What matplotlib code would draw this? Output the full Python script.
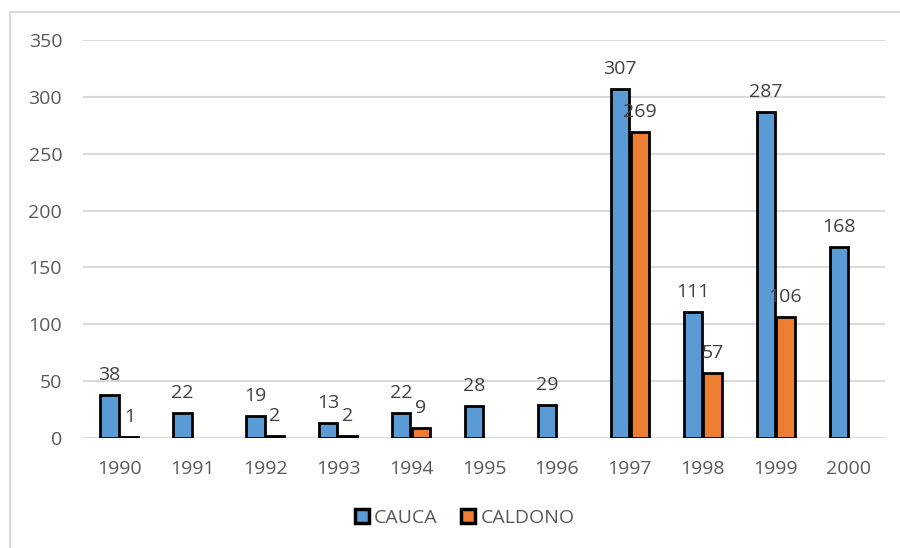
import numpy as np
import matplotlib.pyplot as plt
from matplotlib.patches import Rectangle

# ---------- DATOS ----------
YEARS = ["1990", "1991", "1992", "1993", "1994", "1995", "1996",
         "1997", "1998", "1999", "2000"]
CAUCA = [38, 22, 19, 13, 22, 28, 29, 307, 111, 287, 168]
CALDONO = [1, np.nan, 2, 2, 9, np.nan, np.nan, 269, 57, 106, np.nan]

BLUE = "#5b9bd5"
ORANGE = "#ed7d31"
GRID = "#d9d9d9"
TICK_COLOR = "#595959"
LABEL_COLOR = "#404040"
FS = 14

plt.rcParams["font.family"] = ["Open Sans", "DejaVu Sans"]

fig = plt.figure(figsize=(9, 5.48), dpi=100)
ax = fig.add_axes([0.0922, 0.2007, 0.8911, 0.7263])

# marco exterior del gráfico
fig.patches.append(Rectangle((10 / 900, -0.1), 1.0, 0.1 + (548 - 12) / 548,
                             transform=fig.transFigure, fill=False,
                             edgecolor=GRID, linewidth=1.5))

x = np.arange(len(YEARS))
w = 0.25
off = 0.135

b1 = ax.bar(x - off, CAUCA, w, color=BLUE, edgecolor="black",
            linewidth=2.0, label="CAUCA", zorder=3)
b2 = ax.bar(x + off, CALDONO, w, color=ORANGE, edgecolor="black",
            linewidth=2.0, label="CALDONO", zorder=3)

ax.bar_label(b1, labels=[f"{v:g}" for v in CAUCA], padding=8,
             fontsize=FS, color=LABEL_COLOR, zorder=4)
ax.bar_label(b2, labels=["" if np.isnan(v) else f"{v:g}" for v in CALDONO],
             padding=8, fontsize=FS, color=LABEL_COLOR, zorder=4)

ax.set_xlim(-0.5, len(YEARS) - 0.5)
ax.set_ylim(0, 350)
ax.set_yticks(range(0, 351, 50))
ax.set_xticks(x)
ax.set_xticklabels(YEARS)

ax.yaxis.grid(True, color=GRID, linewidth=1.5, zorder=0)
ax.set_axisbelow(True)
for s in ax.spines.values():
    s.set_visible(False)
ax.tick_params(axis="both", length=0, labelsize=FS, colors=TICK_COLOR)
ax.tick_params(axis="x", pad=16)
ax.tick_params(axis="y", pad=15)

leg = ax.legend(loc="center", bbox_to_anchor=(0.4757, (438 - 518) / 398),
                ncol=2, frameon=False, fontsize=FS, handlelength=0.75,
                handleheight=0.75, handletextpad=0.25, columnspacing=1.2)
for t in leg.get_texts():
    t.set_color(TICK_COLOR)
for h in leg.legend_handles:
    h.set_linewidth(2.5)

fig.savefig("out.png", dpi=100)
